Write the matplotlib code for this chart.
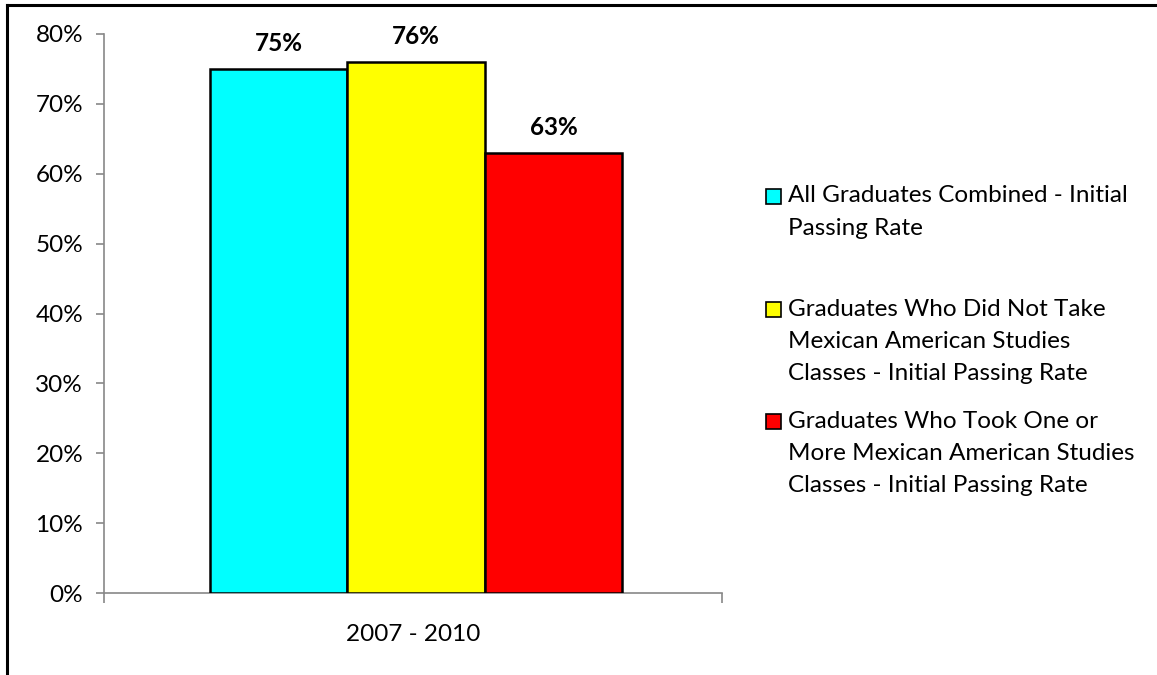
import matplotlib
matplotlib.use("Agg")
import matplotlib.pyplot as plt
from matplotlib.patches import Rectangle
from matplotlib.lines import Line2D

categories = ["2007 - 2010"]
series_names = [
    "All Graduates Combined - Initial\nPassing Rate",
    "Graduates Who Did Not Take\nMexican American Studies\nClasses - Initial Passing Rate",
    "Graduates Who Took One or\nMore Mexican American Studies\nClasses - Initial Passing Rate",
]
values = [75, 76, 63]
colors = ["#00FFFF", "#FFFF00", "#FF0000"]
yticks = [0, 10, 20, 30, 40, 50, 60, 70, 80]

FONT = "Lato"
plt.rcParams["font.family"] = [FONT, "DejaVu Sans"]
FS = 17.5

W, H = 1157, 675
fig = plt.figure(figsize=(W / 100, H / 100), dpi=100)
fig.patch.set_facecolor("white")

# outer border (top and left visible)
fig.add_artist(Line2D([6.5 / W, 6.5 / W], [0, 1 - 5 / H], transform=fig.transFigure, color="black", lw=2.2))
fig.add_artist(Line2D([6.5 / W, 1.0], [1 - 5 / H, 1 - 5 / H], transform=fig.transFigure, color="black", lw=2.2))

ax = fig.add_axes([104 / W, (H - 593) / H, 618 / W, 559 / H])

bw = 0.2222
shift = 0.005
offsets = [shift - bw, shift, shift + bw]
for i, (v, c, off) in enumerate(zip(values, colors, offsets)):
    ax.bar(off, v, width=bw, color=c, edgecolor="black", linewidth=1.8, zorder=3)
    ax.text(off, v + 3.6, f"{v}%", ha="center", va="center", fontsize=FS, fontweight="bold", color="black")

ax.set_xlim(-0.5, 0.5)
ax.set_ylim(0, 80)
ax.set_yticks(yticks)
ax.set_yticklabels([f"{t}%" for t in yticks], fontsize=FS)
ax.set_xticks([-0.5, 0.5])
ax.set_xticklabels(["", ""])
ax.set_xticks([0], minor=True)
ax.set_xticklabels(categories, minor=True, fontsize=FS)
ax.tick_params(axis="x", which="minor", length=0, pad=22)
ax.tick_params(axis="x", which="major", length=7, color="#888888", width=1.2)
ax.tick_params(axis="y", length=6, color="#888888", width=1.2, pad=9)

for s in ["top", "right"]:
    ax.spines[s].set_visible(False)
for s in ["left", "bottom"]:
    ax.spines[s].set_color("#888888")
    ax.spines[s].set_linewidth(1.2)

# legend
entry_y = [196, 309, 421]
line_h = 32.5
for name, c, y0 in zip(series_names, colors, entry_y):
    fig.add_artist(Rectangle((766 / W, 1 - (y0 + 8) / H), 15 / W, 15 / H, transform=fig.transFigure,
                             facecolor=c, edgecolor="black", linewidth=1.2))
    for k, line in enumerate(name.split("\n")):
        fig.text(788 / W, 1 - (y0 + k * line_h) / H, line, ha="left", va="center", fontsize=FS)

fig.savefig("out.png", dpi=100)
